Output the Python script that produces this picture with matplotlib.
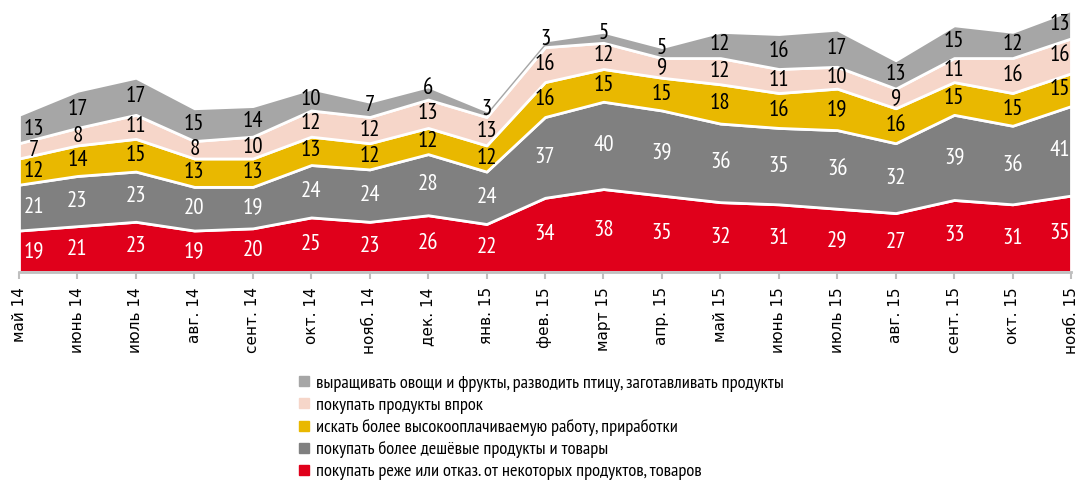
import matplotlib
matplotlib.use("Agg")
import matplotlib.pyplot as plt
from matplotlib.lines import Line2D
from matplotlib import font_manager as fm

months = ["май 14", "июнь 14", "июль 14", "авг. 14", "сент. 14", "окт. 14", "нояб. 14",
          "дек. 14", "янв. 15", "фев. 15", "март 15", "апр. 15", "май 15", "июнь 15",
          "июль 15", "авг. 15", "сент. 15", "окт. 15", "нояб. 15"]

buy_less = [19, 21, 23, 19, 20, 25, 23, 26, 22, 34, 38, 35, 32, 31, 29, 27, 33, 31, 35]
buy_cheaper = [21, 23, 23, 20, 19, 24, 24, 28, 24, 37, 40, 39, 36, 35, 36, 32, 39, 36, 41]
better_job = [12, 14, 15, 13, 13, 13, 12, 12, 12, 16, 15, 15, 18, 16, 19, 16, 15, 15, 15]
stock_up = [7, 8, 11, 8, 10, 12, 12, 13, 13, 16, 12, 9, 12, 11, 10, 9, 11, 16, 16]
grow_own = [13, 17, 17, 15, 14, 10, 7, 6, 3, 3, 5, 5, 12, 16, 17, 13, 15, 12, 13]

labels = ["покупать реже или отказ. от некоторых продуктов, товаров",
          "покупать более дешёвые продукты и товары",
          "искать более высокооплачиваемую работу, приработки",
          "покупать продукты впрок",
          "выращивать овощи и фрукты, разводить птицу, заготавливать продукты"]

series = [buy_less, buy_cheaper, better_job, stock_up, grow_own]
colors = ["#E0001B", "#808080", "#E9B800", "#F6D6C9", "#A6A6A6"]
text_colors = ["white", "white", "black", "black", "black"]

names = {f.name for f in fm.fontManager.ttflist}
cond = "DejaVu Sans"
for cand in ["Ubuntu Condensed", "PT Sans Narrow", "Fira Sans Condensed",
             "Roboto Condensed", "Open Sans Condensed", "Liberation Sans Narrow"]:
    if cand in names:
        cond = cand
        break

fig = plt.figure(figsize=(10.79, 4.83), dpi=100)
ax = fig.add_axes([19/1079, 1 - 272/483, (1071-19)/1079, 272/483])

x = list(range(len(months)))
ax.stackplot(x, *series, colors=colors, edgecolor="white", linewidth=2)

ax.set_xlim(0, len(months) - 1)
ax.set_ylim(0, 124.6)
ax.set_yticks([])
for s in ["left", "top", "right"]:
    ax.spines[s].set_visible(False)
ax.spines["bottom"].set_color("#BFBFBF")
ax.spines["bottom"].set_linewidth(2)
ax.set_xticks(x)
ax.set_xticklabels(months, rotation=90, fontsize=11, family="DejaVu Sans")
ax.tick_params(axis="x", direction="out", length=5, width=1.5, color="#BFBFBF", pad=6)

base = [0] * len(months)
n_series = len(series)
for k, (vals, tc) in enumerate(zip(series, text_colors)):
    for i, v in enumerate(vals):
        ymid = base[i] + v / 2
        dx = 0
        if i == 0:
            dx = 11
        elif i == len(months) - 1:
            dx = -8
        dy = 3 if (k == n_series - 1 and v <= 7) else 0
        ax.annotate(str(v), (i, ymid), xytext=(dx, dy), textcoords="offset points",
                    ha="center", va="center", fontsize=16.5, color=tc,
                    family=[cond, "DejaVu Sans"])
    base = [b + v for b, v in zip(base, vals)]

handles = [Line2D([0], [0], marker="s", linestyle="none", markersize=6.5,
                  markerfacecolor=c, markeredgecolor=c) for c in colors]
leg = fig.legend(handles[::-1], labels[::-1], loc="upper left",
                 bbox_to_anchor=(298/1079, 1 - 375/483), frameon=False,
                 prop={"family": [cond, "DejaVu Sans"], "size": 13.2}, handlelength=0.6,
                 handletextpad=0.4, labelspacing=0.28, borderpad=0, borderaxespad=0)

fig.savefig("out.png", dpi=100)
